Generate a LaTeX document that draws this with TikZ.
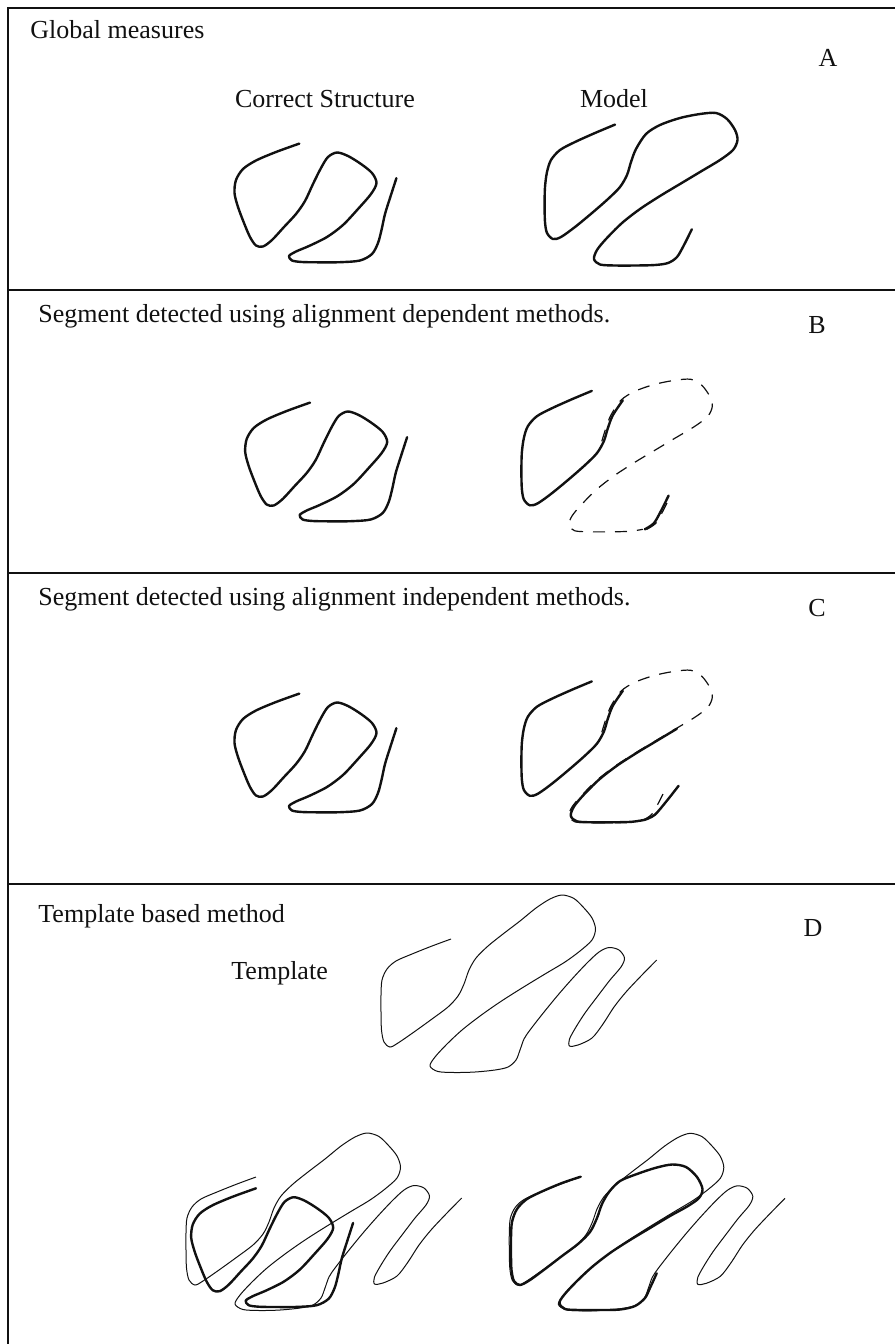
\documentclass[tikz,border=0pt]{standalone}
\usepackage{fontspec}
\setmainfont{Liberation Serif}
\usepackage{tikz}
\usetikzlibrary{positioning}
\definecolor{ink}{HTML}{111111}

% correct structure (panel A position)
\newcommand{\structcurve}[1]{%
  \draw[#1] plot[smooth] coordinates {(299.3,143.6) (276,152) (256,160.5) (243,169) (236,180) (234.5,193) (238,207) (244,223) (250,237) (256,245.5) (263,246.5) (272,240) (284,227) (296,214) (305,201) (313,184) (321,168) (328,157) (337,152.5) (348,156) (361,164) (372,173) (376.5,183) (371,194) (358,209) (343,225) (327,237) (309,246) (296,251.5) (289,256) (292,260.5) (302,262) (318,262.3) (340,262.2) (360,260.5) (372,254) (378,243) (381.5,230) (385,214) (390,198) (396.4,178.2)};}
% model (panel A position)
\newcommand{\modelcurve}[1]{%
  \draw[#1] plot[smooth] coordinates {(615,124.6) (595,133) (575,142) (560,150) (551,160) (547,172) (545,187) (544.6,205) (545,222) (547,233) (553,239) (561,237) (575,227) (592,213) (608,199) (620,187) (627,175) (631,162) (636,149) (646,134) (660,125) (680,118) (700,114) (716,113) (727,119) (735,130) (737.5,140) (733,150) (720,160) (700,172) (680,184) (660,196) (640,209) (622,223) (606,239) (597,250) (594,259) (600,264.5) (615,265.5) (635,265.5) (655,265) (668,263) (677,257) (684,245) (691.8,229.3)};}
% model pieces: head, rest (loop + diagonal + bottom), diagonal, tail
\newcommand{\modelhead}[1]{%
  \draw[#1] plot[smooth] coordinates {(615,124.6) (595,133) (575,142) (560,150) (551,160) (547,172) (545,187) (544.6,205) (545,222) (547,233) (553,239) (561,237) (575,227) (592,213) (608,199) (620,187) (627,175) (631,162) (636,149) (646,134)};}
\newcommand{\modelrest}[1]{%
  \draw[#1] plot[smooth] coordinates {(627,175) (631,162) (636,149) (646,134) (660,125) (680,118) (700,114) (716,113) (727,119) (735,130) (737.5,140) (733,150) (720,160) (700,172) (680,184) (660,196) (640,209) (622,223) (606,239) (597,250) (594,259) (600,264.5) (615,265.5) (635,265.5) (655,265) (668,263)};}
\newcommand{\modeldiag}[1]{%
  \draw[#1] plot[smooth] coordinates {(700,172) (680,184) (660,196) (640,209) (622,223) (606,239) (597,250) (594,259) (600,264.5) (615,265.5) (635,265.5) (655,265) (668,263)};}
\newcommand{\modeltail}[1]{%
  \draw[#1] plot[smooth] coordinates {(668,263) (677,257) (684,245) (691.8,229.3)};}
% template (panel D position)
\newcommand{\templatecurve}[1]{%
  \draw[#1] plot[smooth] coordinates {(451,939) (432,946) (412,954) (396,961) (387,969) (382,980) (381,995) (381,1012) (381.5,1030) (384,1042) (390,1047) (398,1043) (414,1032) (432,1019) (448,1007) (458,996) (464,984) (469,970) (476,958) (488,946) (503,934) (520,921) (536,908) (550,899) (562,895) (574,898.5) (584,908) (592,918) (595.5,929) (592,940) (580,951) (565,962) (545,974) (522,988) (500,1002) (480,1016) (462,1030) (447,1044) (435,1057) (430,1066) (438,1071.5) (455,1072.5) (475,1072) (495,1070) (508,1067) (516,1060) (520,1050) (524,1039) (530,1030) (543,1013.3) (558,995) (572,979) (587,963) (599,952) (609,947.5) (619,950) (624.5,958) (621,967) (610,980) (597,997) (585,1013) (576,1027) (569.5,1039) (569.5,1046) (578,1045) (592,1038) (603,1024) (614,1007) (626,992) (641,976) (656.7,960)};}

\begin{document}
\begin{tikzpicture}[x=0.5pt, y=-0.5pt,
  every node/.style={font=\fontsize{13}{15}\selectfont, inner sep=0pt, text=ink},
  panel/.style={draw=ink, line width=0.8pt},
  curve/.style={draw=ink, line width=1.2pt, line join=round, line cap=round},
  tmpl/.style={draw=ink, line width=0.5pt, line join=round},
  ghost/.style={draw=ink, line width=0.6pt, dash pattern=on 6pt off 5pt}]
  \useasboundingbox (0,0) rectangle (895,1344);
  % frame and panel rules
  \draw[panel] (8,1344) -- (8,8) -- (895,8);
  \foreach \y in {290,573,884} {
    \draw[panel] (8,\y) -- (895,\y);
  }

  % A
  \node[anchor=base west] (titleA) at (30,38) {Global measures};
  \node[anchor=base] (tagA) at (828,66) {A};
  \node[anchor=base] (structA) at (325,107) {Correct Structure};
  \node[anchor=base] (modelA) at (614,107) {Model};
  \structcurve{curve}
  \modelcurve{curve}

  % B
  \node[anchor=base west] (titleB) at (38,322) {Segment detected using alignment dependent methods.};
  \node[anchor=base] (tagB) at (817,333) {B};
  \structcurve{curve, shift={(10.7,259)}}
  \modelrest{ghost, shift={(-25.2,266.3)}}
  \modeltail{ghost, shift={(-21.2,266.3)}}
  \modelhead{curve, shift={(-23.2,266.3)}}
  \modeltail{curve, shift={(-23.2,266.3)}}

  % C
  \node[anchor=base west] (titleC) at (38,605) {Segment detected using alignment independent methods.};
  \node[anchor=base] (tagC) at (817,616) {C};
  \structcurve{curve, shift={(0,550)}}
  \modelrest{ghost, shift={(-25.2,557.3)}}
  \modeltail{ghost, shift={(-25.2,557.3)}}
  \modelhead{curve, shift={(-23.2,556.8)}}
  \modeldiag{curve, shift={(-23.2,556.8)}}
  \draw[curve] plot[smooth] coordinates {(644.8,819.8) (654.8,814.8) (666.8,800.8) (678.6,785.8)};

  % D
  \node[anchor=base west] (titleD) at (38,922) {Template based method};
  \node[anchor=base] (tagD) at (813,936) {D};
  \node[anchor=base west] (tmplLabel) at (231,979) {Template};
  \templatecurve{tmpl}
  \templatecurve{tmpl, shift={(-195,238)}}
  \structcurve{curve, shift={(-43.3,1044.7)}}
  \templatecurve{tmpl, shift={(128.3,238.3)}}
  \draw[curve] plot[smooth] coordinates {(580.7,1176.7) (562,1183) (543,1191) (527,1199) (517,1209) (512,1222) (511,1238) (511,1255) (511.5,1270) (514,1281) (520,1285) (530,1280) (545,1269) (562,1256) (578,1244) (590,1232) (597,1218) (602,1204) (609,1192) (620,1181) (637,1174) (655,1168) (672,1164.5) (686,1167) (697,1177) (702.5,1189) (699,1198) (688,1206) (670,1216) (650,1228) (630,1240) (610,1253) (592,1267) (576,1282) (564,1295) (559.5,1303) (565,1309) (580,1310) (600,1310) (620,1309.5) (635,1306) (645,1298) (650,1288) (656.7,1273.3)};
\end{tikzpicture}
\end{document}
